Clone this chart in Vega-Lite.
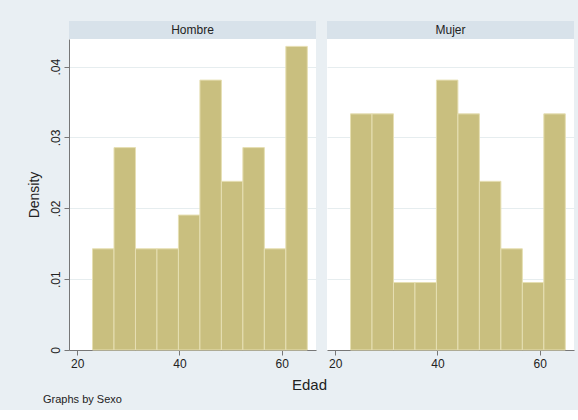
{
  "$schema": "https://vega.github.io/schema/vega-lite/v6.json",
  "background": "#e9eff3",
  "padding": {"left": 27, "top": 21, "right": 5, "bottom": 5},
  "data": {"values": [
    {"Sexo": "Hombre", "desde": 23.0, "hasta": 27.2, "densidad": 0.014286},
    {"Sexo": "Hombre", "desde": 27.2, "hasta": 31.4, "densidad": 0.028571},
    {"Sexo": "Hombre", "desde": 31.4, "hasta": 35.6, "densidad": 0.014286},
    {"Sexo": "Hombre", "desde": 35.6, "hasta": 39.8, "densidad": 0.014286},
    {"Sexo": "Hombre", "desde": 39.8, "hasta": 44.0, "densidad": 0.019048},
    {"Sexo": "Hombre", "desde": 44.0, "hasta": 48.2, "densidad": 0.038095},
    {"Sexo": "Hombre", "desde": 48.2, "hasta": 52.4, "densidad": 0.02381},
    {"Sexo": "Hombre", "desde": 52.4, "hasta": 56.6, "densidad": 0.028571},
    {"Sexo": "Hombre", "desde": 56.6, "hasta": 60.8, "densidad": 0.014286},
    {"Sexo": "Hombre", "desde": 60.8, "hasta": 65.0, "densidad": 0.042857},
    {"Sexo": "Mujer", "desde": 23.0, "hasta": 27.2, "densidad": 0.033333},
    {"Sexo": "Mujer", "desde": 27.2, "hasta": 31.4, "densidad": 0.033333},
    {"Sexo": "Mujer", "desde": 31.4, "hasta": 35.6, "densidad": 0.009524},
    {"Sexo": "Mujer", "desde": 35.6, "hasta": 39.8, "densidad": 0.009524},
    {"Sexo": "Mujer", "desde": 39.8, "hasta": 44.0, "densidad": 0.038095},
    {"Sexo": "Mujer", "desde": 44.0, "hasta": 48.2, "densidad": 0.033333},
    {"Sexo": "Mujer", "desde": 48.2, "hasta": 52.4, "densidad": 0.02381},
    {"Sexo": "Mujer", "desde": 52.4, "hasta": 56.6, "densidad": 0.014286},
    {"Sexo": "Mujer", "desde": 56.6, "hasta": 60.8, "densidad": 0.009524},
    {"Sexo": "Mujer", "desde": 60.8, "hasta": 65.0, "densidad": 0.033333}
  ]},
  "columns": 2,
  "align": "each",
  "spacing": {"row": 0, "column": -4},
  "title": {"text": "Graphs by Sexo", "orient": "bottom", "anchor": "start", "fontSize": 11, "fontWeight": "normal", "color": "#222", "dx": 16, "offset": 2},
  "concat": [
    {
      "width": 247, "height": 18,
      "view": {"fill": "#d8e2ea", "stroke": null},
      "transform": [{"filter": "datum.Sexo === 'Hombre'"}, {"aggregate": [], "groupby": ["Sexo"]}],
      "mark": {"type": "text", "fontSize": 12, "color": "#222", "baseline": "middle"},
      "encoding": {"text": {"field": "Sexo", "type": "nominal"}}
    },
    {
      "width": 247, "height": 18,
      "view": {"fill": "#d8e2ea", "stroke": null},
      "transform": [{"filter": "datum.Sexo === 'Mujer'"}, {"aggregate": [], "groupby": ["Sexo"]}],
      "mark": {"type": "text", "fontSize": 12, "color": "#222", "baseline": "middle"},
      "encoding": {"text": {"field": "Sexo", "type": "nominal"}}
    },
    {
      "width": 247, "height": 311,
      "view": {"fill": "white", "stroke": null},
      "transform": [{"filter": "datum.Sexo === 'Hombre'"}],
      "mark": {"type": "bar", "fill": "#c9bf7f", "stroke": "#e6dfb3", "strokeWidth": 1},
      "encoding": {
        "x": {"field": "desde", "type": "quantitative",
          "scale": {"domain": [18.4, 66.7], "nice": false, "zero": false},
          "axis": {"values": [20, 40, 60], "tickSize": 5, "labelFontSize": 12, "labelPadding": 3, "labelColor": "#222", "domainColor": "#777", "tickColor": "#777", "grid": false,
            "title": "Edad", "titleFontSize": 15, "titleFontWeight": "normal", "titleColor": "#222", "titleX": 240, "titleY": 39, "titleBaseline": "alphabetic", "titleAlign": "center"}},
        "x2": {"field": "hasta"},
        "y": {"field": "densidad", "type": "quantitative",
          "scale": {"domain": [0, 0.0439], "nice": false},
          "axis": {"title": "Density", "values": [0, 0.01, 0.02, 0.03, 0.04],
            "labelExpr": "datum.value === 0 ? '0' : slice(format(datum.value, '.2f'), 1)",
            "labelAngle": -90, "labelFontSize": 12, "labelColor": "#222", "labelPadding": 2,
            "tickSize": 5, "tickColor": "#777", "domainColor": "#777",
            "grid": true, "gridColor": "#e6edef",
            "titleFontSize": 14, "titleFontWeight": "normal", "titleColor": "#222", "titlePadding": 8}},
        "y2": {"datum": 0}
      }
    },
    {
      "width": 247, "height": 311,
      "view": {"fill": "white", "stroke": null},
      "transform": [{"filter": "datum.Sexo === 'Mujer'"}],
      "mark": {"type": "bar", "fill": "#c9bf7f", "stroke": "#e6dfb3", "strokeWidth": 1},
      "encoding": {
        "x": {"field": "desde", "type": "quantitative",
          "scale": {"domain": [18.4, 66.7], "nice": false, "zero": false},
          "axis": {"values": [20, 40, 60], "tickSize": 5, "labelFontSize": 12, "labelPadding": 3, "labelColor": "#222", "domainColor": "#777", "tickColor": "#777", "grid": false, "title": null}},
        "x2": {"field": "hasta"},
        "y": {"field": "densidad", "type": "quantitative",
          "scale": {"domain": [0, 0.0439], "nice": false},
          "axis": {"title": null, "values": [0, 0.01, 0.02, 0.03, 0.04], "labels": false, "ticks": false, "domain": false, "grid": true, "gridColor": "#e6edef"}},
        "y2": {"datum": 0}
      }
    }
  ],
  "config": {"font": "Liberation Sans", "view": {"stroke": null}}
}
